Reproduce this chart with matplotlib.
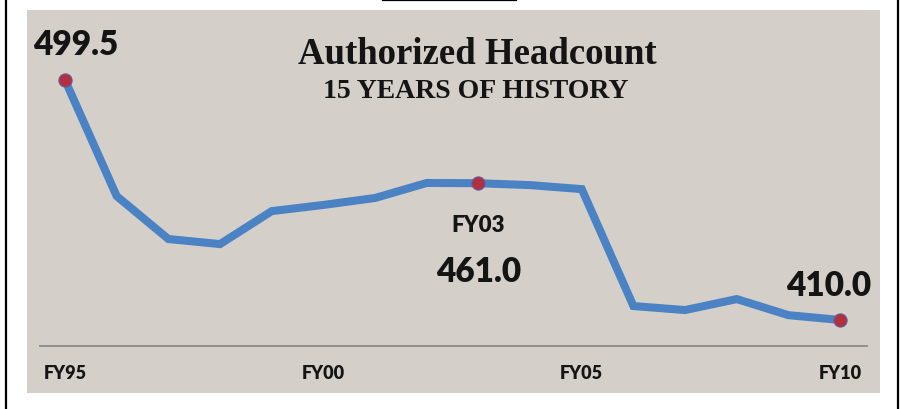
import matplotlib
matplotlib.use("Agg")
from matplotlib import pyplot as plt
from matplotlib.patches import Rectangle
from matplotlib.lines import Line2D

# Authorized headcount FY95..FY10
years = ['FY95', 'FY96', 'FY97', 'FY98', 'FY99', 'FY00', 'FY01', 'FY02',
         'FY03', 'FY04', 'FY05', 'FY06', 'FY07', 'FY08', 'FY09', 'FY10']
headcount = [499.5, 456.2, 440.2, 438.3, 450.6, 452.9, 455.5, 461.1,
             461.0, 460.3, 458.8, 415.2, 413.7, 417.8, 411.8, 410.0]
tick_years = ['FY95', 'FY00', 'FY05', 'FY10']
marked = ['FY95', 'FY03', 'FY10']

panel_color = '#d4d0c9'
line_color = '#4a82c4'
dot_color = '#b0303f'
text_color = '#141414'

fig = plt.figure(dpi=100, figsize=(9.03, 4.10))
fig.patch.set_facecolor('white')

# gray panel and frame
fig.patches.append(Rectangle((27 / 903, 1 - 394 / 410), 853 / 903, 383 / 410,
                             transform=fig.transFigure, facecolor=panel_color,
                             edgecolor='none', zorder=-5))
for x in (5.5 / 903, 898.5 / 903):
    fig.lines.append(Line2D([x, x], [0, 1], transform=fig.transFigure,
                            color='black', lw=1.6, zorder=-4))
fig.lines.append(Line2D([383 / 903, 516 / 903], [1 - 1 / 410, 1 - 1 / 410],
                        transform=fig.transFigure, color='black', lw=1.6, zorder=-4))

ax = fig.add_axes([40 / 903, 1 - 347 / 410, 827 / 903, 336 / 410])
ax.patch.set_alpha(0)
xs = list(range(len(years)))
ax.plot(xs, headcount, color=line_color, lw=5.8, solid_joinstyle='miter',
        solid_capstyle='butt', zorder=2, clip_on=False)
mx = [years.index(y) for y in marked]
ax.plot(mx, [headcount[i] for i in mx], 'o', ms=9.5, color=dot_color,
        mec='#6a5a9a', mew=0.8, zorder=3, clip_on=False)

ax.set_xlim(-0.484, 15.52)
ax.set_ylim(400.3, 525.6)
for s in ('top', 'right', 'left'):
    ax.spines[s].set_visible(False)
ax.spines['bottom'].set_color('#8a8a8a')
ax.spines['bottom'].set_linewidth(1.3)
ax.set_yticks([])
ax.set_xticks([years.index(y) for y in tick_years])
ax.set_xticklabels(tick_years, family='Lato', fontweight='heavy', fontsize=13,
                   color=text_color)
ax.tick_params(axis='x', length=0, pad=13)

num_font = dict(family='Lato', fontweight='heavy', color=text_color,
                ha='center', va='center')
i0, i3, i10 = mx
ax.annotate('%.1f' % headcount[i0], (i0, headcount[i0]), xytext=(8, 26),
            textcoords='offset points', fontsize=24, **num_font)
ax.annotate(years[i3], (i3, headcount[i3]), xytext=(0, -29.5),
            textcoords='offset points', fontsize=16, **num_font)
ax.annotate('%.1f' % headcount[i3], (i3, headcount[i3]), xytext=(0, -63),
            textcoords='offset points', fontsize=24, **num_font)
ax.annotate('%.1f' % headcount[i10], (i10, headcount[i10]), xytext=(-8, 25),
            textcoords='offset points', fontsize=24, **num_font)

fig.text(477 / 903, 1 - 55 / 410, 'Authorized Headcount', family='Liberation Serif',
         fontweight='bold', fontsize=26.5, ha='center', va='center', color=text_color)
fig.text(476 / 903, 1 - 92 / 410, '15 YEARS OF HISTORY', family='Liberation Serif',
         fontweight='bold', fontsize=20, ha='center', va='center', color=text_color)

plt.savefig('out.png', dpi=100)
